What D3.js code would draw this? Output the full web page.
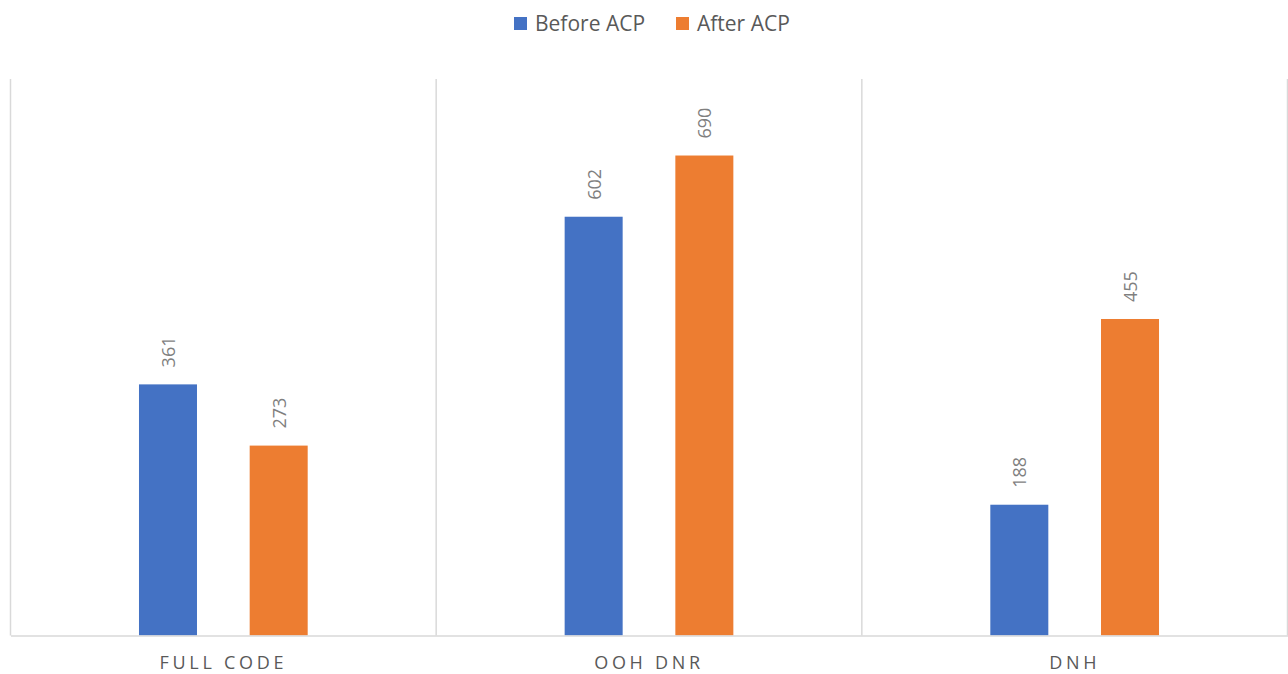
<!DOCTYPE html>
<html>
<head>
<meta charset="utf-8">
<script src="https://cdn.jsdelivr.net/npm/d3@7"></script>
<style>
  html, body { margin: 0; padding: 0; background: #fff; }
  svg text { font-family: "Open Sans", "Noto Sans", sans-serif; }
</style>
</head>
<body>
<svg id="chart" width="1288" height="674"></svg>
<script>
// Data
const categories = ["FULL CODE", "OOH DNR", "DNH"];
const seriesNames = ["Before ACP", "After ACP"];
const beforeACP = [361, 602, 188];
const afterACP = [273, 690, 455];
const seriesColors = ["#4472C4", "#ED7D31"];

const values = [beforeACP, afterACP];
const rows = categories.map((c, i) => ({
  category: c,
  bars: seriesNames.map((s, j) => ({ series: s, value: values[j][i], color: seriesColors[j] }))
}));

const svg = d3.select("#chart");
const margin = { left: 10.5, right: 0.5, top: 79, bottom: 39 };
const W = 1288, H = 674;
const plotBottom = H - margin.bottom + 0.5;

const x0 = d3.scaleBand().domain(categories).range([margin.left, W - margin.right]).padding(0);
const groupWidth = 168.7;
const x1 = d3.scaleBand().domain(seriesNames).range([0, groupWidth]).paddingInner(0.476).paddingOuter(0);
const y = d3.scaleLinear().domain([0, 800]).range([plotBottom, margin.top]);

const gridColor = "#d9d9d9";

// Category separators (vertical gridlines)
const seps = categories.map(c => x0(c)).concat([x0(categories[categories.length - 1]) + x0.bandwidth()]);
svg.append("g").selectAll("line").data(seps).join("line")
  .attr("x1", d => d).attr("x2", d => d)
  .attr("y1", margin.top).attr("y2", plotBottom)
  .attr("stroke", gridColor).attr("stroke-width", 1.5);

// Bars
const groups = svg.append("g").selectAll("g").data(rows).join("g")
  .attr("transform", d => `translate(${x0(d.category) + (x0.bandwidth() - groupWidth) / 2},0)`);

groups.selectAll("rect").data(d => d.bars).join("rect")
  .attr("x", d => x1(d.series))
  .attr("width", x1.bandwidth())
  .attr("y", d => y(d.value))
  .attr("height", d => plotBottom - y(d.value))
  .attr("fill", d => d.color);

// Value labels (rotated)
groups.selectAll("text.val").data(d => d.bars).join("text")
  .attr("class", "val")
  .attr("transform", d => `translate(${x1(d.series) + x1.bandwidth() / 2 + 7},${y(d.value) - 17}) rotate(-90)`)
  .attr("text-anchor", "start")
  .attr("fill", "#7f7f7f")
  .attr("font-size", 18)
  .text(d => d.value);

// Baseline axis
const xAxis = d3.axisBottom(x0).tickSize(0).tickPadding(0);
const axisG = svg.append("g").attr("transform", `translate(0,${plotBottom})`).call(xAxis);
axisG.select(".domain").attr("stroke", gridColor).attr("stroke-width", 1.5);
axisG.selectAll(".tick text")
  .attr("dy", 0)
  .attr("y", 33)
  .attr("fill", "#595959")
  .attr("font-size", 18)
  .attr("font-family", "'Open Sans', sans-serif")
  .style("letter-spacing", "3.7px");

// Legend
const legend = svg.append("g");
const legendItems = [
  { name: seriesNames[0], color: seriesColors[0], x: 514 },
  { name: seriesNames[1], color: seriesColors[1], x: 676 }
];
const li = legend.selectAll("g").data(legendItems).join("g")
  .attr("transform", d => `translate(${d.x},17)`);
li.append("rect").attr("width", 13).attr("height", 13).attr("fill", d => d.color);
li.append("text").attr("x", 21).attr("y", 14)
  .attr("fill", "#595959").attr("font-size", 21)
  .text(d => d.name);
</script>
</body>
</html>
